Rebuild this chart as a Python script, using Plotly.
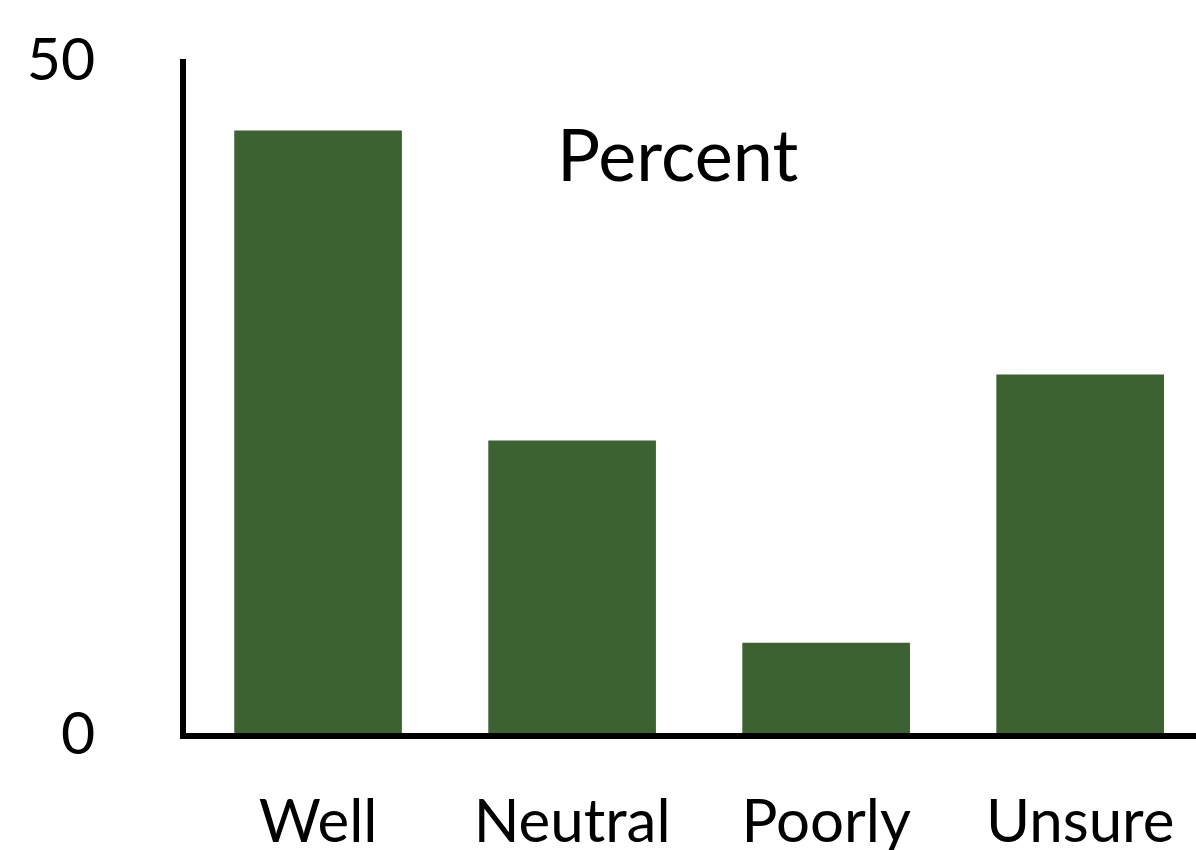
import plotly.graph_objects as go

categories = ["Well", "Neutral", "Poorly", "Unsure"]
percent = [44.7, 21.7, 6.7, 26.6]
y_ticks = [0, 50]
title_text = "Percent"

fig = go.Figure(
    go.Bar(
        x=categories,
        y=percent,
        marker=dict(color="#3D6231", line=dict(width=0)),
        showlegend=False,
        hoverinfo="x+y",
    )
)

fig.update_layout(
    width=1196,
    height=850,
    margin=dict(l=186, r=0, t=59, b=117, autoexpand=False),
    paper_bgcolor="white",
    plot_bgcolor="white",
    font=dict(family="Lato", color="black"),
    bargap=0.34,
    annotations=[
        dict(
            text=title_text,
            xref="paper", yref="paper",
            x=0.487, y=0.861,
            xanchor="center", yanchor="middle",
            showarrow=False,
            font=dict(family="Lato", size=72, color="black"),
        )
    ],
)

fig.update_xaxes(
    type="category",
    range=[-0.52, 3.456],
    automargin=False,
    showline=True, linecolor="black", linewidth=6,
    showgrid=False, zeroline=False,
    ticks="", tickfont=dict(family="Lato", size=60, color="black"),
    ticklabelstandoff=31,
)
fig.update_yaxes(
    range=[0, 50],
    automargin=False,
    tickvals=y_ticks,
    ticktext=[str(v) for v in y_ticks],
    showline=True, linecolor="black", linewidth=6,
    showgrid=False, zeroline=False,
    ticks="", tickfont=dict(family="Lato", size=59, color="black"),
    ticklabelstandoff=73,
)

fig.write_html("out.html")
